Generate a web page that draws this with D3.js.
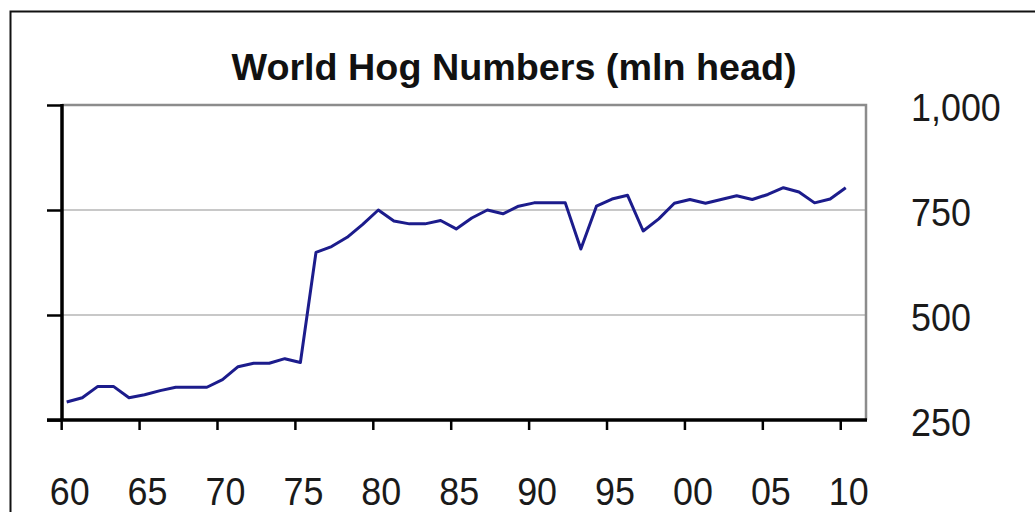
<!DOCTYPE html>
<html>
<head>
<meta charset="utf-8">
<script src="https://cdn.jsdelivr.net/npm/d3@7"></script>
<style>
  html, body { margin: 0; padding: 0; background: #fff; }
  svg { display: block; font-family: "Liberation Sans", Arial, sans-serif; }
</style>
</head>
<body>
<svg id="chart" width="1035" height="512"></svg>
<script>
// World hog numbers, mln head, 1960-2010
const years = d3.range(1960, 2011);
const hogs = [
  293, 303, 330, 330, 303, 310, 320, 328, 328, 328,
  346, 377, 385, 385, 396, 387, 649, 663, 685, 716,
  750, 724, 717, 717, 725, 705, 731, 750, 741, 759,
  767, 767, 767, 657, 759, 776, 785, 700, 729, 766,
  775, 766, 775, 784, 775, 787, 803, 793, 767, 776,
  803
];
const yTicks = [250, 500, 750, 1000];
const xTicks = d3.range(1960, 2011, 5);
const xTickLabels = ['60', '65', '70', '75', '80', '85', '90', '95', '00', '05', '10'];

const svg = d3.select('#chart');
const m = { l: 62, r: 866, t: 105, b: 420 };

const x = d3.scaleLinear().domain([1959.7, 2011.3]).range([m.l, m.r]);
const y = d3.scaleLinear().domain([250, 1000]).range([m.b, m.t]);

// squeeze digits a bit, the original font is narrower than Arial
const narrow = sel => sel.each(function () {
  const w = this.getComputedTextLength();
  d3.select(this).attr('textLength', w * 0.92).attr('lengthAdjust', 'spacingAndGlyphs');
});

// outer frame
svg.append('rect')
  .attr('x', 10.5).attr('y', 11.5)
  .attr('width', 1100).attr('height', 600)
  .attr('fill', 'none').attr('stroke', '#111').attr('stroke-width', 2);

// title
svg.append('text')
  .attr('x', 514).attr('y', 80)
  .attr('text-anchor', 'middle')
  .attr('font-size', 37).attr('font-weight', 'bold')
  .attr('textLength', 565).attr('lengthAdjust', 'spacingAndGlyphs')
  .attr('fill', '#111')
  .text('World Hog Numbers (mln head)');

// gridlines
svg.append('g').selectAll('line')
  .data([500, 750])
  .join('line')
  .attr('x1', m.l).attr('x2', m.r)
  .attr('y1', d => y(d)).attr('y2', d => y(d))
  .attr('stroke', '#c8c8c8').attr('stroke-width', 2);

// plot frame top/right
svg.append('path')
  .attr('d', `M${m.l},${y(1000)}H${m.r}V${m.b}`)
  .attr('fill', 'none').attr('stroke', '#8c8c8c').attr('stroke-width', 2.5);

// y axis: line and ticks on the left, labels on the right
const yAxis = svg.append('g').attr('transform', `translate(${m.l},0)`)
  .call(d3.axisLeft(y).tickValues(yTicks).tickSize(15).tickFormat(''));
yAxis.select('.domain').remove();
yAxis.selectAll('line').attr('stroke', '#000').attr('stroke-width', 2.5);
svg.append('line')
  .attr('x1', m.l).attr('x2', m.l).attr('y1', y(1000) - 1).attr('y2', m.b + 1)
  .attr('stroke', '#000').attr('stroke-width', 3.5);

svg.append('g').selectAll('text')
  .data(yTicks)
  .join('text')
  .attr('x', 911).attr('y', d => y(d) + 16)
  .attr('font-size', 39).attr('fill', '#1a1a1a')
  .text(d => d3.format(',')(d))
  .call(narrow);

// x axis
svg.append('line')
  .attr('x1', 47).attr('x2', m.r + 1).attr('y1', m.b).attr('y2', m.b)
  .attr('stroke', '#000').attr('stroke-width', 3.5);
svg.append('g').selectAll('line')
  .data(xTicks)
  .join('line')
  .attr('x1', d => x(d) - 5).attr('x2', d => x(d) - 5)
  .attr('y1', m.b).attr('y2', m.b + 10)
  .attr('stroke', '#000').attr('stroke-width', 2.5);
svg.append('g').selectAll('text')
  .data(xTicks)
  .join('text')
  .attr('x', d => x(d) + 3).attr('y', 505)
  .attr('text-anchor', 'middle')
  .attr('font-size', 39).attr('fill', '#1a1a1a')
  .text((d, i) => xTickLabels[i])
  .call(narrow);

// series
svg.append('path')
  .datum(years.map((yr, i) => [yr, hogs[i]]))
  .attr('fill', 'none')
  .attr('stroke', '#1c1c8c')
  .attr('stroke-width', 3)
  .attr('stroke-linejoin', 'round')
  .attr('d', d3.line().x(d => x(d[0])).y(d => y(d[1])));
</script>
</body>
</html>
